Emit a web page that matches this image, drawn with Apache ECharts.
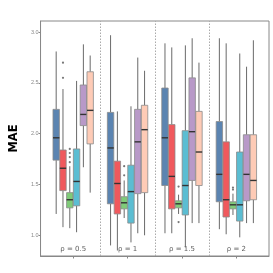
<!DOCTYPE html>
<html><head><meta charset="utf-8">
<script src="https://cdn.jsdelivr.net/npm/echarts@6/dist/echarts.min.js"></script>
<style>html,body{margin:0;padding:0;background:#fff}#c{width:273px;height:273px}</style>
</head><body><div id="c"></div>
<script>
// categories (groups)
const groups = [1, 2, 3, 4];
const groupLabels = ['ρ = 0.5', 'ρ = 1', 'ρ = 1.5', 'ρ = 2'];
const yTicks = [1.0, 1.5, 2.0, 2.5, 3.0];
// each box: [lowWhisker, Q1, median, Q3, highWhisker]
const blue   = [[1.21,1.74,1.96,2.24,2.81],[0.90,1.31,1.86,2.21,2.97],[1.02,1.49,1.96,2.45,2.89],[1.06,1.33,1.60,2.12,2.94]];
const red    = [[1.08,1.44,1.66,1.84,2.44],[0.85,1.21,1.51,1.73,2.22],[1.02,1.26,1.58,2.09,2.85],[1.01,1.18,1.35,1.92,2.89]];
const green  = [[1.07,1.27,1.35,1.42,1.68],[1.17,1.26,1.32,1.38,1.54],[1.21,1.27,1.31,1.34,1.40],[1.20,1.26,1.30,1.33,1.41]];
const cyan   = [[1.03,1.29,1.53,1.85,2.52],[0.93,1.12,1.43,1.69,2.27],[0.88,1.20,1.49,2.03,2.87],[0.98,1.14,1.30,1.82,2.79]];
const purple = [[1.67,2.08,2.19,2.48,2.88],[1.02,1.41,1.92,2.24,2.75],[1.12,1.54,2.02,2.55,2.94],[1.12,1.34,1.60,1.99,2.66]];
const peach  = [[1.42,1.90,2.23,2.61,2.77],[1.00,1.42,2.04,2.28,2.62],[1.12,1.49,1.82,2.22,2.70],[1.12,1.35,1.54,1.99,2.92]];
// outliers: [groupIndex, methodIndex, value]
const outliers = [
  [0,1,2.70],[0,1,2.55],
  [0,2,1.85],[0,2,1.81],[0,2,1.77],[0,2,1.72],
  [1,2,1.68],[1,2,1.59],
  [2,2,1.48],[2,2,1.13],
  [3,2,1.47],[3,2,1.45]
];

const methods = [blue, red, green, cyan, purple, peach];
const colors = ['#5b84b1', '#f0595d', '#7fcb78', '#5bbdd2', '#b899c8', '#fecbb6'];
const slot = 0.125, boxW = 0.118;
const offset = i => (i - 2.5) * slot;

function renderBox(params, api) {
  const x = api.value(0);
  const lo = api.coord([x, api.value(1)]);
  const q1 = api.coord([x, api.value(2)]);
  const md = api.coord([x, api.value(3)]);
  const q3 = api.coord([x, api.value(4)]);
  const hi = api.coord([x, api.value(5)]);
  const w = api.size([boxW, 0])[0];
  const cx = lo[0];
  const fill = colors[params.seriesIndex];
  return {
    type: 'group',
    children: [
      {type: 'line', shape: {x1: cx, y1: hi[1], x2: cx, y2: q3[1]}, style: {stroke: '#6a6a6a', lineWidth: 1}},
      {type: 'line', shape: {x1: cx, y1: q1[1], x2: cx, y2: lo[1]}, style: {stroke: '#6a6a6a', lineWidth: 1}},
      {type: 'rect', shape: {x: cx - w / 2, y: q3[1], width: w, height: q1[1] - q3[1]}, style: {fill: fill, stroke: '#8a8a8a', lineWidth: 0.8}},
      {type: 'line', shape: {x1: cx - w / 2, y1: md[1], x2: cx + w / 2, y2: md[1]}, style: {stroke: '#333', lineWidth: 1.4}}
    ]
  };
}

const series = methods.map((m, i) => ({
  type: 'custom',
  renderItem: renderBox,
  encode: {x: 0, y: [1, 2, 3, 4, 5]},
  data: m.map((v, g) => [groups[g] + offset(i)].concat(v)),
  silent: true,
  z: 3
}));

series.push({
  type: 'scatter',
  symbolSize: 2.2,
  itemStyle: {color: '#555'},
  data: outliers.map(o => [groups[o[0]] + offset(o[1]), o[2]]),
  z: 4,
  silent: true
});

series.push({
  type: 'scatter',
  symbolSize: 0,
  data: groups.map((g, i) => [g, 0.865, groupLabels[i]]),
  label: {show: true, position: 'inside', formatter: p => p.value[2], fontSize: 7, color: '#333', fontFamily: 'DejaVu Sans'},
  silent: true,
  markLine: {
    symbol: 'none', silent: true, label: {show: false},
    lineStyle: {type: [1.5, 1.5], color: '#aaa', width: 1},
    data: [{xAxis: 1.5}, {xAxis: 2.5}, {xAxis: 3.5}]
  }
});

const chart = echarts.init(document.getElementById('c'), null, {renderer: 'canvas'});
chart.setOption({
  animation: false,
  backgroundColor: '#fff',
  grid: {left: 24.7, right: 4, top: 21, bottom: 17, show: true, borderColor: '#888', borderWidth: 1, backgroundColor: 'transparent'},
  xAxis: {
    type: 'value', min: 0.4, max: 4.6,
    axisLine: {show: true, lineStyle: {color: '#888'}},
    axisTick: {show: true, customValues: groups, length: 2.5, lineStyle: {color: '#888'}},
    axisLabel: {show: false},
    splitLine: {show: false}
  },
  yAxis: {
    type: 'value', min: 0.796, max: 3.11,
    name: 'MAE', nameLocation: 'middle', nameGap: 11,
    nameTextStyle: {fontSize: 11.5, fontWeight: 'bold', color: '#000', fontFamily: 'DejaVu Sans'},
    axisLine: {show: true, lineStyle: {color: '#888'}},
    axisTick: {show: true, customValues: yTicks, length: 2, lineStyle: {color: '#888'}},
    axisLabel: {show: true, customValues: yTicks, fontSize: 5.5, color: '#888', margin: 2, formatter: v => v.toFixed(1)},
    splitLine: {show: false}
  },
  series: series
});
</script></body></html>
